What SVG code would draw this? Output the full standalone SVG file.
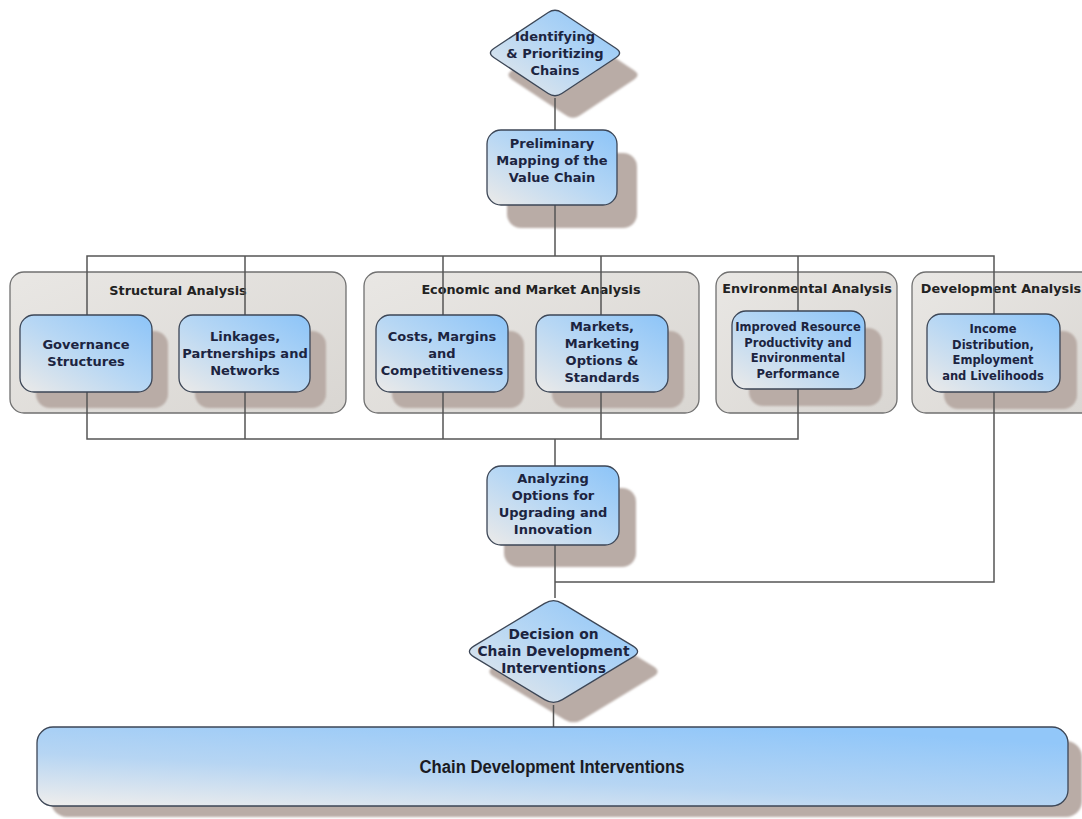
<svg xmlns="http://www.w3.org/2000/svg" width="1082" height="819" viewBox="0 0 1082 819">
<defs>
<linearGradient id="gNode" x1="0" y1="1" x2="1" y2="0">
<stop offset="0" stop-color="#eceae8"/>
<stop offset="0.5" stop-color="#b7d7f4"/>
<stop offset="1" stop-color="#8cc4f8"/>
</linearGradient>
<linearGradient id="gBar" x1="0" y1="1" x2="0.7" y2="0">
<stop offset="0" stop-color="#f0eeec"/>
<stop offset="0.45" stop-color="#b6d5f3"/>
<stop offset="1" stop-color="#92c7f9"/>
</linearGradient>
<linearGradient id="gGroup" x1="0" y1="0" x2="1" y2="1">
<stop offset="0" stop-color="#e9e7e4"/>
<stop offset="1" stop-color="#d9d6d2"/>
</linearGradient>
<filter id="soft" x="-10%" y="-10%" width="120%" height="120%">
<feGaussianBlur stdDeviation="1.2"/>
</filter>
</defs>
<style>
.shadow{fill:#b9aca6;filter:url(#soft)}
.node{fill:url(#gNode);stroke:#3c4656;stroke-width:1.3}
.grp{fill:url(#gGroup);stroke:#707070;stroke-width:1.3}
.bar{fill:url(#gBar);stroke:#3c4656;stroke-width:1.3}
.conn{fill:none;stroke:#555555;stroke-width:1.5}
text{font-family:"DejaVu Sans","Liberation Sans",sans-serif;font-weight:bold;fill:#1c2440;text-anchor:middle}
.t{font-size:13px}
.ts{font-size:11.5px}
.tt{font-size:12.8px;fill:#222222}
.td{font-size:13.8px}
.tb{font-family:"Liberation Sans",Arial,sans-serif;font-size:18px;fill:#1a1a22}
</style>

<!-- group containers -->
<g id="grp-structural">
<rect class="grp" x="10" y="272" width="336" height="141" rx="14"/>
<text class="tt" x="178" y="295">Structural Analysis</text>
</g>
<g id="grp-economic">
<rect class="grp" x="364" y="272" width="335" height="141" rx="14"/>
<text class="tt" x="531" y="294">Economic and Market Analysis</text>
</g>
<g id="grp-environmental">
<rect class="grp" x="716" y="272" width="181" height="141" rx="14"/>
<text class="tt" x="807" y="293">Environmental Analysis</text>
</g>
<g id="grp-development">
<rect class="grp" x="912" y="272" width="190" height="141" rx="14"/>
<text class="tt" x="1001" y="293">Development Analysis</text>
</g>

<!-- shadows -->
<g id="shadows">
<path class="shadow" transform="translate(18,22)" d="M548.2,12.5 Q555,8 561.8,12.5 L616.2,48.5 Q623,53 616.2,57.5 L561.8,93.5 Q555,98 548.2,93.5 L493.8,57.5 Q487,53 493.8,48.5 Z"/>
<rect class="shadow" x="507" y="153" width="130" height="75" rx="14"/>
<rect class="shadow" x="36" y="331" width="132" height="77" rx="14"/>
<rect class="shadow" x="195" y="331" width="131" height="77" rx="14"/>
<rect class="shadow" x="392" y="331" width="132" height="77" rx="14"/>
<rect class="shadow" x="552" y="331" width="132" height="77" rx="14"/>
<rect class="shadow" x="749" y="328" width="133" height="78" rx="14"/>
<rect class="shadow" x="944" y="331" width="133" height="78" rx="14"/>
<rect class="shadow" x="504" y="488" width="132" height="79" rx="14"/>
<path class="shadow" transform="translate(20,20)" d="M544.65,603.35 Q553.5,598 562.35,603.35 L633.15,646.15 Q642,651.5 633.15,656.85 L562.35,699.65 Q553.5,705 544.65,699.65 L473.85,656.85 Q465,651.5 473.85,646.15 Z"/>
<rect class="shadow" x="51" y="741" width="1031" height="76" rx="16"/>
</g>

<!-- connectors -->
<g id="connectors">
<path class="conn" d="M555,98 V130"/>
<path class="conn" d="M555,205 V256"/>
<path class="conn" d="M87,315 V256 H994 V582 H555"/>
<path class="conn" d="M245,315 V256"/>
<path class="conn" d="M443,315 V256"/>
<path class="conn" d="M601,315 V256"/>
<path class="conn" d="M798,311 V256"/>
<path class="conn" d="M87,392 V439 H798 V388"/>
<path class="conn" d="M245,392 V439"/>
<path class="conn" d="M443,392 V439"/>
<path class="conn" d="M601,392 V439"/>
<path class="conn" d="M555,439 V466"/>
<path class="conn" d="M555,545 V598"/>
<path class="conn" d="M553.5,705 V727"/>
</g>

<g id="n-identifying">
<path class="node" d="M548.2,12.5 Q555,8 561.8,12.5 L616.2,48.5 Q623,53 616.2,57.5 L561.8,93.5 Q555,98 548.2,93.5 L493.8,57.5 Q487,53 493.8,48.5 Z"/>
<text class="t" x="555" y="41">Identifying</text>
<text class="t" x="555" y="58">&amp; Prioritizing</text>
<text class="t" x="555" y="75">Chains</text>
</g>
<g id="n-preliminary">
<rect class="node" x="487" y="130" width="130" height="75" rx="14"/>
<text class="t" x="552" y="148">Preliminary</text>
<text class="t" x="552" y="165">Mapping of the</text>
<text class="t" x="552" y="182">Value Chain</text>
</g>
<g id="n-governance">
<rect class="node" x="20" y="315" width="132" height="77" rx="14"/>
<text class="t" x="86" y="349">Governance</text>
<text class="t" x="86" y="366">Structures</text>
</g>
<g id="n-linkages">
<rect class="node" x="179" y="315" width="131" height="77" rx="14"/>
<text class="t" x="245" y="341">Linkages,</text>
<text class="t" x="245" y="358">Partnerships and</text>
<text class="t" x="245" y="375">Networks</text>
</g>
<g id="n-costs">
<rect class="node" x="376" y="315" width="132" height="77" rx="14"/>
<text class="t" x="442" y="341">Costs, Margins</text>
<text class="t" x="442" y="358">and</text>
<text class="t" x="442" y="375">Competitiveness</text>
</g>
<g id="n-markets">
<rect class="node" x="536" y="315" width="132" height="77" rx="14"/>
<text class="t" x="602" y="331">Markets,</text>
<text class="t" x="602" y="348">Marketing</text>
<text class="t" x="602" y="365">Options &amp;</text>
<text class="t" x="602" y="382">Standards</text>
</g>
<g id="n-improved">
<rect class="node" x="732" y="311" width="133" height="78" rx="14"/>
<text class="ts" x="798" y="331">Improved Resource</text>
<text class="ts" x="798" y="346.5">Productivity and</text>
<text class="ts" x="798" y="362">Environmental</text>
<text class="ts" x="798" y="377.5">Performance</text>
</g>
<g id="n-income">
<rect class="node" x="927" y="314" width="133" height="78" rx="14"/>
<text class="ts" x="993" y="333">Income</text>
<text class="ts" x="993" y="348.5">Distribution,</text>
<text class="ts" x="993" y="364">Employment</text>
<text class="ts" x="993" y="379.5">and Livelihoods</text>
</g>
<g id="n-analyzing">
<rect class="node" x="487" y="466" width="132" height="79" rx="14"/>
<text class="t" x="553" y="483">Analyzing</text>
<text class="t" x="553" y="500">Options for</text>
<text class="t" x="553" y="517">Upgrading and</text>
<text class="t" x="553" y="534">Innovation</text>
</g>
<g id="n-decision">
<path class="node" d="M544.65,603.35 Q553.5,598 562.35,603.35 L633.15,646.15 Q642,651.5 633.15,656.85 L562.35,699.65 Q553.5,705 544.65,699.65 L473.85,656.85 Q465,651.5 473.85,646.15 Z"/>
<text class="td" x="553.5" y="639">Decision on</text>
<text class="td" x="553.5" y="656">Chain Development</text>
<text class="td" x="553.5" y="673">Interventions</text>
</g>
<g id="n-interventions">
<rect class="bar" x="37" y="727" width="1031" height="79" rx="16"/>
<text class="tb" x="552" y="773" textLength="265" lengthAdjust="spacingAndGlyphs">Chain Development Interventions</text>
</g>
</svg>
